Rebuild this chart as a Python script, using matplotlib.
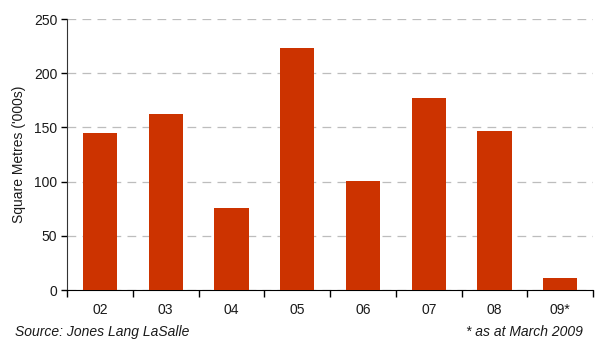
import numpy as np
import matplotlib.pyplot as plt

plt.rcParams['font.family'] = ['Liberation Sans', 'DejaVu Sans']

# data
years = ['02', '03', '04', '05', '06', '07', '08', '09*']
sq_metres = [145, 162, 76, 223, 101, 177, 147, 11]

bar_colour = '#CC3300'

fig = plt.figure(figsize=(5.98, 3.40), dpi=100)
ax = fig.add_axes([0.112, 0.147, 0.880, 0.797])

centres = np.arange(len(years)) + 0.5
ax.bar(centres, sq_metres, width=0.52, color=bar_colour, zorder=3)

ax.set_xlim(0, len(years))
ax.set_ylim(0, 250)
ax.set_yticks([0, 50, 100, 150, 200, 250])

# ticks at the category edges, labels in the middle
ax.set_xticks(np.arange(len(years) + 1))
ax.set_xticklabels([])
ax.set_xticks(centres, minor=True)
ax.set_xticklabels(years, minor=True)
ax.tick_params(axis='x', which='major', length=5, width=1, direction='out', color='black')
ax.tick_params(axis='x', which='minor', length=0, pad=9, labelsize=10, labelcolor='#1a1a1a')
ax.tick_params(axis='y', length=4, width=1, labelsize=10, labelcolor='#1a1a1a', pad=3)

ax.yaxis.grid(True, linestyle=(0, (7, 5)), color='#BDBDBD', linewidth=0.9, zorder=0)
ax.spines['top'].set_visible(False)
ax.spines['right'].set_visible(False)
ax.spines['left'].set_color('#333333')
ax.spines['bottom'].set_color('black')

ax.set_ylabel("Square Metres ('000s)", fontsize=10, color='#1a1a1a', labelpad=6)

# footer notes sit right at the bottom edge
fig.text(0.025, 0.004, 'Source: Jones Lang LaSalle', fontsize=10, style='italic',
         color='#1a1a1a', va='bottom', ha='left')
fig.text(0.975, 0.004, '* as at March 2009', fontsize=10, style='italic',
         color='#1a1a1a', va='bottom', ha='right')

plt.savefig('out.png', dpi=100)
